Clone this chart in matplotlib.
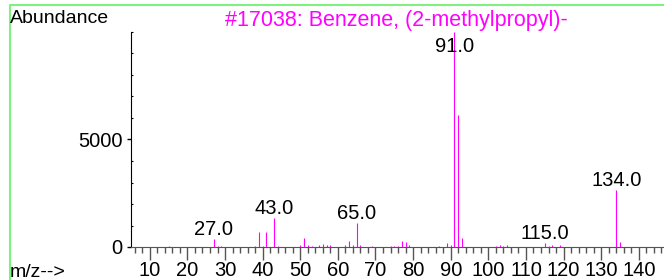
import matplotlib
matplotlib.use('Agg')
import matplotlib.pyplot as plt
from matplotlib.lines import Line2D
from matplotlib.ticker import MultipleLocator

plt.rcParams['font.family'] = ['Liberation Sans', 'DejaVu Sans']

TITLE = '#17038: Benzene, (2-methylpropyl)-'

# m/z values and abundances
MZ = [15, 27, 28, 29, 38, 39, 40, 41, 43, 44,
      50, 51, 52, 53, 55, 56, 57, 58, 62, 63,
      64, 65, 66, 69, 74, 75, 76, 77, 78, 79,
      87, 89, 90, 91, 92, 93, 102, 103, 104, 105,
      115, 116, 117, 119, 134, 135]
ABUNDANCE = [30, 370, 40, 50, 50, 700, 60, 720, 1330, 50,
             110, 400, 90, 50, 70, 120, 110, 70, 80, 280,
             80, 1130, 70, 40, 30, 30, 40, 280, 230, 70,
             30, 190, 80, 9999, 6150, 400, 50, 90, 60, 90,
             185, 50, 110, 90, 2640, 250]

LABELLED = [27, 43, 65, 91, 115, 134]

W, H = 664, 280
MAGENTA = '#ff00ff'
FS = 14.5


def main():
    fig = plt.figure(figsize=(W / 100, H / 100), dpi=100)
    ax = fig.add_axes([131 / W, 33 / H, (W - 131) / W, 215 / H])

    ax.vlines(MZ, 0, ABUNDANCE, color=MAGENTA, lw=0.8)

    ax.set_xlim(5, 146.7)
    ax.set_ylim(0, 10000)

    # peak labels sit just above their peak, the base peak label goes inside
    for mz in LABELLED:
        h = ABUNDANCE[MZ.index(mz)]
        dy = -14.5 if h > 9000 else 3
        ax.annotate(f'{mz:.1f}', xy=(mz, h), xytext=(0, dy),
                    textcoords='offset points', ha='center', va='baseline',
                    fontsize=FS, color='black', annotation_clip=False)

    ax.set_xticks(range(10, 150, 10))
    ax.xaxis.set_minor_locator(MultipleLocator(2))
    ax.set_yticks([0, 5000])
    ax.yaxis.set_minor_locator(MultipleLocator(1000))

    ax.tick_params(axis='x', which='major', length=9, width=1, color='#555555',
                   direction='out', labelsize=FS, pad=1)
    ax.tick_params(axis='x', which='minor', length=4.3, width=1, color='#555555',
                   direction='out')
    ax.tick_params(axis='y', which='major', length=3, width=1, direction='out',
                   labelsize=FS, pad=3)
    ax.tick_params(axis='y', which='minor', length=1.5, width=0.8, direction='in')

    ax.spines['top'].set_visible(False)
    ax.spines['right'].set_visible(False)
    ax.spines['bottom'].set_color('#555555')
    ax.spines['left'].set_color('black')

    fig.text(10 / W, 1 - 10 / H, 'Abundance', ha='left', va='top', fontsize=14)
    fig.text(396 / W, 1 - 10 / H, TITLE, ha='center', va='top', fontsize=15.5,
             color=MAGENTA)
    fig.text(10 / W, 1 - 264 / H, 'm/z-->', ha='left', va='top', fontsize=14)

    # green frame of the report window
    fig.add_artist(Line2D([9.5 / W, 9.5 / W, 1], [0, 1 - 4.5 / H, 1 - 4.5 / H],
                          color='#80f080', lw=1.5))

    fig.savefig('out.png', dpi=100)


if __name__ == '__main__':
    main()
